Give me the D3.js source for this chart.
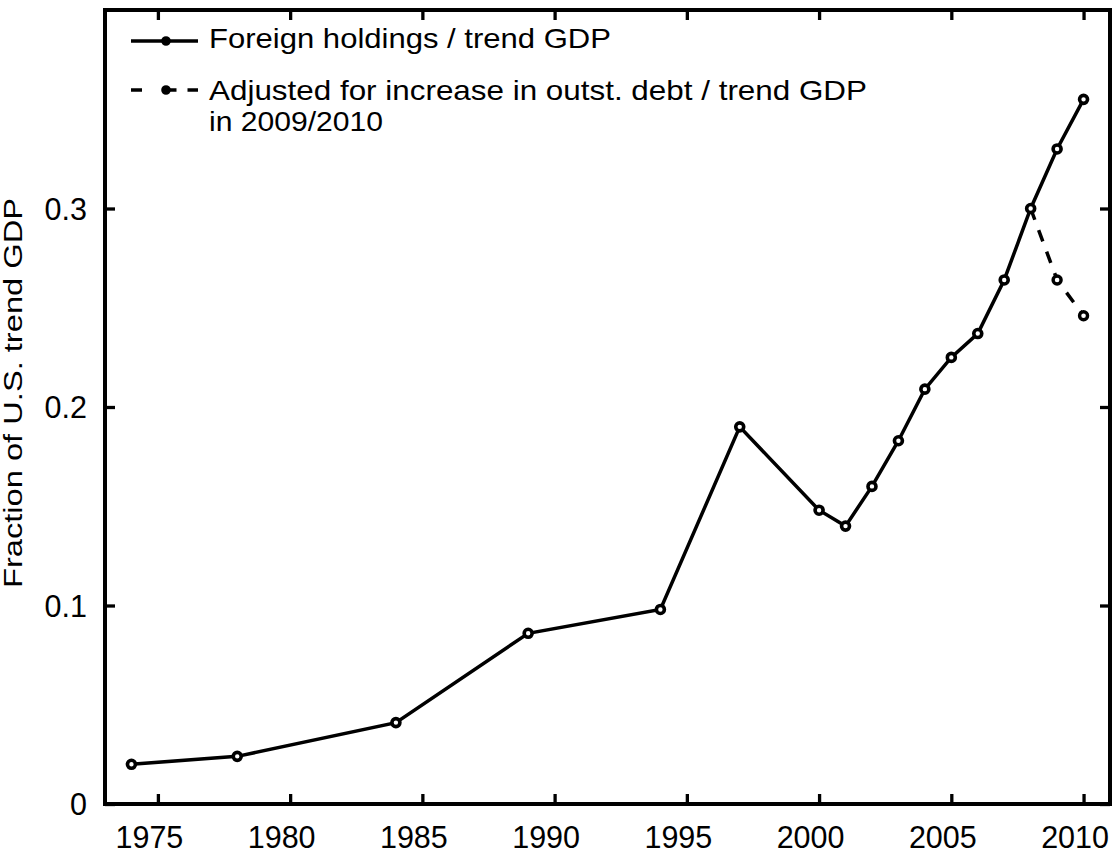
<!DOCTYPE html>
<html>
<head>
<meta charset="utf-8">
<script src="https://cdn.jsdelivr.net/npm/d3@7"></script>
<style>
  html, body { margin: 0; padding: 0; background: #fff; }
  svg { display: block; }
  text { font-family: "Liberation Sans", Arial, Helvetica, sans-serif; fill: #000; }
</style>
</head>
<body>
<svg id="chart" width="1115" height="855"></svg>
<script>
// ---- Data ----
const years = [1974, 1978, 1984, 1989, 1994, 1997, 2000, 2001, 2002, 2003, 2004, 2005, 2006, 2007, 2008, 2009, 2010];
const foreignHoldings = [0.020, 0.024, 0.041, 0.086, 0.098, 0.190, 0.148, 0.140, 0.160, 0.183, 0.209, 0.225, 0.237, 0.264, 0.300, 0.330, 0.355];
const adjustedYears = [2008, 2009, 2010];
const adjustedValues = [0.300, 0.264, 0.246];
const xTicks = [1975, 1980, 1985, 1990, 1995, 2000, 2005, 2010];
const yTicks = [0, 0.1, 0.2, 0.3];
const seriesNames = ["Foreign holdings / trend GDP", "Adjusted for increase in outst. debt / trend GDP", "in 2009/2010"];
const yLabel = "Fraction of U.S. trend GDP";

// ---- Layout ----
const svg = d3.select("#chart");
const L = 105, R = 1110, T = 10, B = 804;
const x = d3.scaleLinear().domain([1973, 2011]).range([L, R]);
const y = d3.scaleLinear().domain([0, 0.4]).range([B, T]);
const tickLen = 10;

// Axes (ticks inward on all sides)
const gx = svg.append("g").attr("transform", `translate(0,${B})`)
  .call(d3.axisBottom(x).tickValues(xTicks).tickFormat(d3.format("d")).tickSizeInner(-tickLen).tickSizeOuter(0));
const gxTop = svg.append("g").attr("transform", `translate(0,${T})`)
  .call(d3.axisTop(x).tickValues(xTicks).tickFormat("").tickSizeInner(-tickLen).tickSizeOuter(0));
const gy = svg.append("g").attr("transform", `translate(${L},0)`)
  .call(d3.axisLeft(y).tickValues(yTicks).tickFormat(d => d === 0 ? "0" : d3.format(".1f")(d)).tickSizeInner(-tickLen).tickSizeOuter(0).tickPadding(18));
const gyR = svg.append("g").attr("transform", `translate(${R},0)`)
  .call(d3.axisRight(y).tickValues(yTicks).tickFormat("").tickSizeInner(-tickLen).tickSizeOuter(0));

[gx, gxTop, gy, gyR].forEach(g => {
  g.select(".domain").remove();
  g.selectAll(".tick line").attr("stroke", "#000").attr("stroke-width", 3.3);
  g.selectAll(".tick text").attr("font-size", 30.5).attr("fill", "#000")
    .attr("font-family", '"Liberation Sans", Arial, sans-serif');
});
gx.selectAll(".tick text").attr("dy", "0.71em").attr("y", 22).attr("x", -9);
gy.selectAll(".tick text").attr("dy", "0.36em");

// Frame
svg.append("rect").attr("x", L).attr("y", T).attr("width", R - L).attr("height", B - T)
  .attr("fill", "none").attr("stroke", "#000").attr("stroke-width", 4);

// Y label
svg.append("text")
  .attr("transform", `translate(${22},${393}) rotate(-90)`)
  .attr("text-anchor", "middle")
  .attr("font-size", 25.5)
  .attr("textLength", 390).attr("lengthAdjust", "spacingAndGlyphs")
  .text(yLabel);

// Lines
const line = d3.line().x(d => x(d[0])).y(d => y(d[1]));
const mainData = years.map((yr, i) => [yr, foreignHoldings[i]]);
const adjData = adjustedYears.map((yr, i) => [yr, adjustedValues[i]]);

svg.append("path").datum(adjData).attr("d", line)
  .attr("fill", "none").attr("stroke", "#000").attr("stroke-width", 3.5).attr("stroke-dasharray", "12,11");
svg.append("path").datum(mainData).attr("d", line)
  .attr("fill", "none").attr("stroke", "#000").attr("stroke-width", 3.5);

svg.selectAll(".adjpt").data(adjData.slice(1)).enter().append("circle")
  .attr("cx", d => x(d[0])).attr("cy", d => y(d[1])).attr("r", 4)
  .attr("fill", "#fff").attr("stroke", "#000").attr("stroke-width", 3.4);
svg.selectAll(".mainpt").data(mainData).enter().append("circle")
  .attr("cx", d => x(d[0])).attr("cy", d => y(d[1])).attr("r", 4)
  .attr("fill", "#fff").attr("stroke", "#000").attr("stroke-width", 3.6);

// Legend
const lg = svg.append("g");
lg.append("line").attr("x1", 131).attr("x2", 198).attr("y1", 41).attr("y2", 41)
  .attr("stroke", "#000").attr("stroke-width", 3.5);
lg.append("circle").attr("cx", 166).attr("cy", 41).attr("r", 3.8).attr("fill", "#000").attr("stroke", "#000").attr("stroke-width", 2);
lg.append("text").attr("x", 209).attr("y", 48).attr("font-size", 28)
  .attr("textLength", 402).attr("lengthAdjust", "spacingAndGlyphs").text(seriesNames[0]);

lg.append("line").attr("x1", 131).attr("x2", 198).attr("y1", 90).attr("y2", 90)
  .attr("stroke", "#000").attr("stroke-width", 3.5).attr("stroke-dasharray", "11,23.5,0,0,11");
lg.append("circle").attr("cx", 166).attr("cy", 90).attr("r", 3.8).attr("fill", "#000").attr("stroke", "#000").attr("stroke-width", 2);
lg.append("text").attr("x", 209).attr("y", 100).attr("font-size", 28)
  .attr("textLength", 658).attr("lengthAdjust", "spacingAndGlyphs").text(seriesNames[1]);
lg.append("text").attr("x", 209).attr("y", 131).attr("font-size", 28)
  .attr("textLength", 174).attr("lengthAdjust", "spacingAndGlyphs").text(seriesNames[2]);
</script>
</body>
</html>
